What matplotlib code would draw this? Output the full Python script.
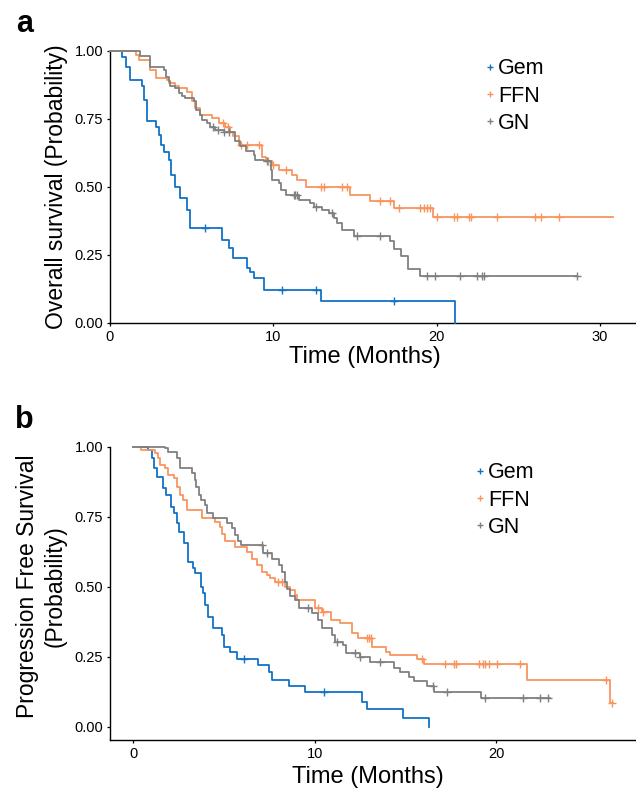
import numpy as np
import matplotlib

matplotlib.use("Agg")
import matplotlib.pyplot as plt
from matplotlib.lines import Line2D

plt.rcParams["font.family"] = ["Liberation Sans", "DejaVu Sans"]

COLORS = {"Gem": "#1172C6", "FFN": "#F9945E", "GN": "#808080"}
GROUPS = ["Gem", "FFN", "GN"]

# ---- panel a: overall survival (step times, survival after step, censor times, end)
os_gem_t = [0, 0.75, 0.95, 1.2, 1.98, 2.1, 2.25, 2.8, 3.0, 3.1, 3.3, 3.6, 3.75, 4.0, 4.3,
            4.7, 4.9, 6.87, 7.3, 7.5, 8.4, 8.6, 8.8, 9.4, 12.9, 21.1]
os_gem_s = [1.0, 0.978, 0.94, 0.893, 0.869, 0.819, 0.74, 0.72, 0.69, 0.654, 0.629, 0.60,
            0.544, 0.50, 0.458, 0.415, 0.35, 0.305, 0.276, 0.239, 0.202, 0.185, 0.165,
            0.121, 0.078, 0.0]
os_gem_cens = [5.8, 10.5, 12.6, 17.4]
os_gem_end = 21.1

os_ffn_t = [0, 1.61, 1.75, 2.47, 2.83, 3.49, 3.59, 4.0, 4.2, 4.71, 5.02, 5.22, 5.52, 6.24,
            6.65, 7.05, 7.36, 7.52, 7.9, 9.32, 9.52, 9.93, 10.34, 11.15, 11.46, 11.97,
            14.72, 15.94, 17.37, 19.75]
os_ffn_s = [1.0, 0.985, 0.967, 0.93, 0.90, 0.893, 0.88, 0.869, 0.863, 0.85, 0.814, 0.79,
            0.765, 0.752, 0.734, 0.72, 0.70, 0.685, 0.654, 0.61, 0.593, 0.58, 0.5625,
            0.544, 0.526, 0.50, 0.47, 0.446, 0.42, 0.387]
os_ffn_cens = [6.9, 7.2, 8.0, 8.4, 9.1, 9.7, 10.0, 10.8, 12.9, 13.1, 14.2, 14.5, 16.55,
               17.17, 17.68, 19.0, 19.2, 19.4, 19.6, 20.0, 21.04, 21.24, 21.96, 22.1,
               23.7, 26.0, 26.4, 27.5]
os_ffn_end = 30.8

os_gn_t = [0, 1.86, 2.47, 3.28, 3.45, 3.59, 3.69, 4.0, 4.2, 4.4, 4.6, 5.16, 5.28, 5.48,
           5.63, 5.93, 6.14, 6.44, 6.95, 7.66, 7.95, 8.3, 8.8, 8.9, 9.42, 9.83, 9.93,
           10.34, 10.44, 10.75, 11.6, 12.27, 12.48, 12.99, 13.39, 13.7, 13.9, 14.2,
           14.92, 17.17, 17.37, 17.84, 18.25, 18.96]
os_gn_s = [1.0, 0.98, 0.94, 0.93, 0.905, 0.887, 0.869, 0.863, 0.845, 0.832, 0.826, 0.814,
           0.783, 0.765, 0.746, 0.734, 0.72, 0.71, 0.70, 0.667, 0.65, 0.63, 0.618, 0.60,
           0.593, 0.5625, 0.526, 0.513, 0.489, 0.47, 0.452, 0.44, 0.425, 0.415, 0.403,
           0.385, 0.367, 0.342, 0.317, 0.30, 0.27, 0.246, 0.197, 0.173]
os_gn_cens = [6.3, 6.6, 7.0, 7.3, 9.6, 11.25, 11.35, 11.45, 12.6, 13.6, 15.1, 16.5, 19.4,
              19.9, 21.45, 22.47, 22.77, 22.87, 28.58]
os_gn_end = 28.58

# ---- panel b: progression free survival
pfs_gem_t = [0, 0.83, 1.01, 1.16, 1.32, 1.65, 1.79, 2.08, 2.26, 2.39, 2.52, 2.81, 3.0,
             3.28, 3.4, 3.73, 3.86, 3.95, 4.1, 4.41, 4.91, 5.0, 5.33, 5.7, 6.86, 7.49,
             7.63, 8.6, 9.43, 12.6, 12.9, 14.86, 16.27]
pfs_gem_s = [1.0, 0.988, 0.958, 0.923, 0.893, 0.851, 0.827, 0.786, 0.762, 0.726, 0.696,
             0.655, 0.589, 0.566, 0.548, 0.50, 0.476, 0.435, 0.393, 0.351, 0.327, 0.286,
             0.268, 0.242, 0.22, 0.194, 0.167, 0.146, 0.123, 0.089, 0.062, 0.032, 0.0]
pfs_gem_cens = [6.07, 10.5]
pfs_gem_end = 16.27

pfs_ffn_t = [0, 0.42, 1.2, 1.38, 1.47, 1.75, 1.9, 2.26, 2.39, 2.58, 2.76, 2.94, 3.77, 4.5,
             4.78, 4.91, 5.06, 5.6, 6.25, 6.53, 6.8, 7.08, 7.36, 7.54, 7.78, 8.37, 8.64,
             8.92, 9.01, 10.02, 10.39, 10.89, 11.36, 12.05, 12.36, 13.15, 13.94, 14.16,
             15.63, 16.0, 21.7, 26.26]
pfs_ffn_s = [1.0, 0.99, 0.976, 0.958, 0.935, 0.923, 0.90, 0.887, 0.857, 0.827, 0.81,
             0.774, 0.744, 0.73, 0.714, 0.69, 0.663, 0.643, 0.625, 0.60, 0.577, 0.554,
             0.542, 0.53, 0.518, 0.50, 0.488, 0.47, 0.452, 0.423, 0.411, 0.381, 0.369,
             0.336, 0.316, 0.286, 0.268, 0.256, 0.241, 0.224, 0.167, 0.086]
pfs_ffn_cens = [7.95, 8.19, 10.2, 10.45, 12.87, 12.96, 13.1, 15.9, 17.15, 17.69, 17.8,
                19.03, 19.27, 19.4, 19.62, 20.04, 21.29, 26.07, 26.39]
pfs_ffn_end = 26.44

pfs_gn_t = [0, 1.75, 1.93, 2.39, 2.58, 3.22, 3.37, 3.46, 3.59, 3.73, 3.95, 4.05, 4.41,
            5.15, 5.43, 5.61, 5.79, 5.94, 7.17, 7.63, 8.0, 8.19, 8.33, 8.46, 8.64, 8.92,
            9.1, 9.84, 10.2, 10.39, 10.94, 11.13, 11.55, 11.73, 12.5, 13.06, 14.34,
            14.71, 15.17, 15.44, 16.18, 16.55, 19.16]
pfs_gn_s = [1.0, 0.994, 0.982, 0.958, 0.923, 0.905, 0.881, 0.857, 0.827, 0.81, 0.792,
            0.762, 0.744, 0.726, 0.708, 0.685, 0.663, 0.649, 0.619, 0.599, 0.577, 0.554,
            0.518, 0.492, 0.468, 0.452, 0.423, 0.405, 0.381, 0.351, 0.327, 0.304, 0.292,
            0.262, 0.248, 0.23, 0.208, 0.196, 0.179, 0.164, 0.146, 0.125, 0.101]
pfs_gn_cens = [7.08, 7.36, 9.65, 11.22, 12.23, 12.5, 13.6, 16.5, 17.29, 19.4, 21.48,
               22.39, 22.84]
pfs_gn_end = 22.95

OS = {
    "Gem": (os_gem_t, os_gem_s, os_gem_cens, os_gem_end),
    "FFN": (os_ffn_t, os_ffn_s, os_ffn_cens, os_ffn_end),
    "GN": (os_gn_t, os_gn_s, os_gn_cens, os_gn_end),
}
PFS = {
    "Gem": (pfs_gem_t, pfs_gem_s, pfs_gem_cens, pfs_gem_end),
    "FFN": (pfs_ffn_t, pfs_ffn_s, pfs_ffn_cens, pfs_ffn_end),
    "GN": (pfs_gn_t, pfs_gn_s, pfs_gn_cens, pfs_gn_end),
}


def draw_km(ax, curves):
    for g in GROUPS:
        t, s, cens, end = curves[g]
        t = np.asarray(t)
        s = np.asarray(s)
        x = np.append(t, end)
        y = np.append(s, s[-1])
        ax.step(x, y, where="post", color=COLORS[g], lw=1.3, clip_on=False, zorder=3)
        cens = np.asarray(cens)
        idx = np.searchsorted(t, cens, side="right") - 1
        ax.plot(cens, s[idx], linestyle="none", marker="+", markersize=5.5,
                mew=1.0, color=COLORS[g], clip_on=False, zorder=3)


def style_axes(ax):
    for side in ("top", "right"):
        ax.spines[side].set_visible(False)
    for side in ("left", "bottom"):
        ax.spines[side].set_linewidth(1.0)
    ax.tick_params(length=2.5, width=0.9, labelsize=10.5, pad=2.5, colors="black")
    ax.set_yticks([0, 0.25, 0.5, 0.75, 1.0], ["0.00", "0.25", "0.50", "0.75", "1.00"])


def add_legend(ax, left, ymid):
    handles = [Line2D([0], [0], color=COLORS[g], marker="+", linestyle="none",
                      markersize=5, mew=1.0) for g in GROUPS]
    ax.legend(handles, GROUPS, loc="center left", bbox_to_anchor=(left, ymid),
              bbox_transform=ax.figure.transFigure, frameon=False, fontsize=15.5,
              handlelength=0.55, handletextpad=0.1, labelspacing=0.3,
              borderpad=0, borderaxespad=0)


fig = plt.figure(figsize=(6.36, 7.90), dpi=100)

# panel a
ax1 = fig.add_axes([110 / 636, 1 - 322.7 / 790, 526 / 636, 272 / 790])
draw_km(ax1, OS)
style_axes(ax1)
ax1.set_xlim(0, 32.2)
ax1.set_ylim(0, 1.0)
ax1.set_xticks([0, 10, 20, 30])
ax1.set_ylabel("Overall survival (Probability)", fontsize=16.5)
ax1.yaxis.set_label_coords(-0.079, 0.5)
ax1.set_xlabel("Time (Months)", fontsize=17)
ax1.xaxis.set_label_coords(0.485, -0.084)
add_legend(ax1, 484 / 636, 1 - 96 / 790)

# panel b
ax2 = fig.add_axes([110 / 636, 1 - 740 / 790, 526 / 636, 293.3 / 790])
draw_km(ax2, PFS)
style_axes(ax2)
ax2.set_xlim(-1.29, 27.7)
ax2.set_ylim(-0.0475, 1.0)
ax2.set_xticks([0, 10, 20])
ax2.set_ylabel("Progression Free Survival\n(Probability)", fontsize=16.5,
               linespacing=1.25)
ax2.yaxis.set_label_coords(-0.083, 0.525)
ax2.set_xlabel("Time (Months)", fontsize=17)
ax2.xaxis.set_label_coords(0.49, -0.087)
add_legend(ax2, 474 / 636, 1 - 500 / 790)

fig.text(16 / 636, 1 - 32 / 790, "a", fontsize=22, fontweight="bold", va="baseline")
fig.text(15 / 636, 1 - 428 / 790, "b", fontsize=22, fontweight="bold", va="baseline")

fig.savefig("out.png", dpi=100)
